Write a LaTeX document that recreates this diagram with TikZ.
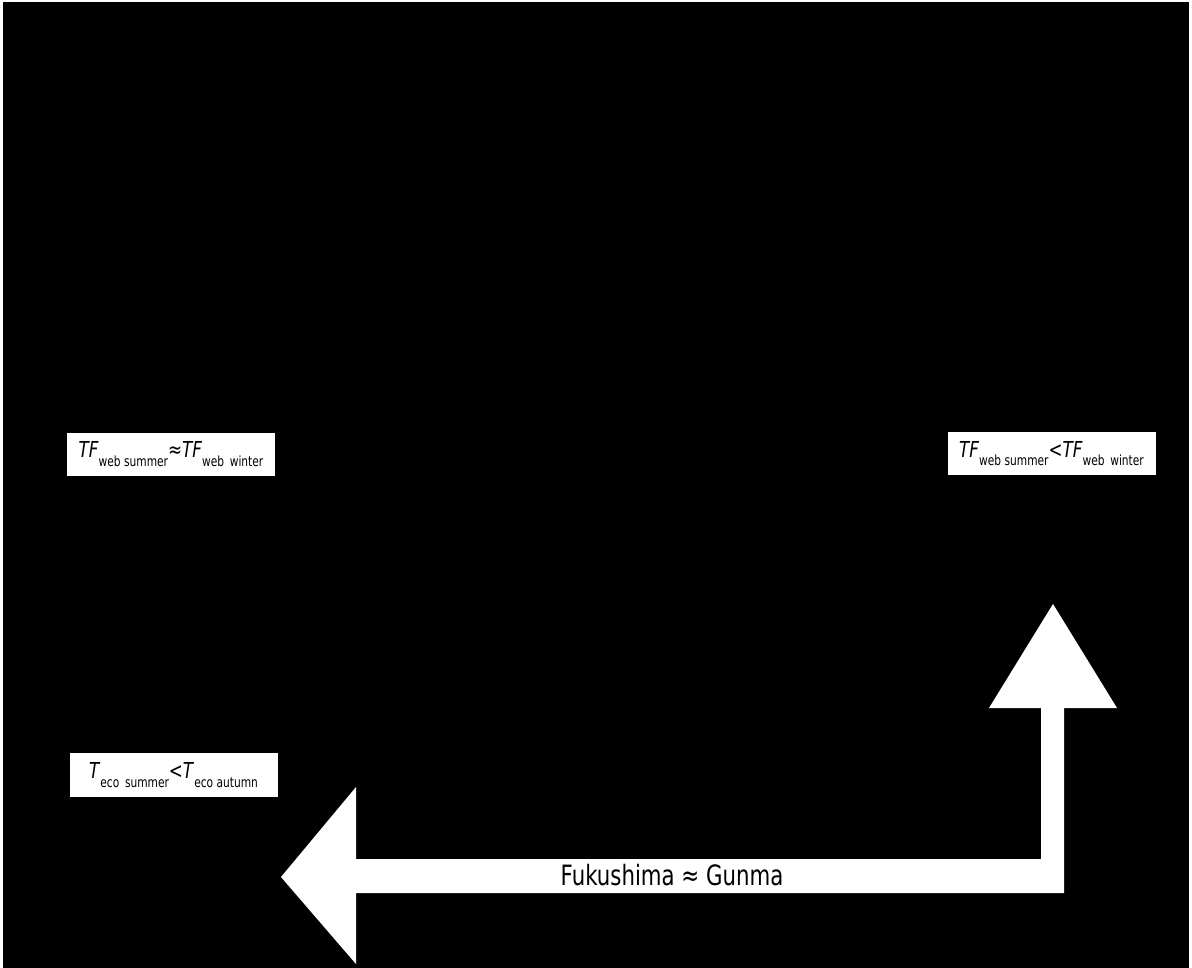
\documentclass[tikz,border=0pt]{standalone}
\usepackage{fontspec}
\setmainfont[FakeStretch=0.76]{DejaVu Sans}
% lowered subscript in a smaller size
\newcommand\lowsub[1]{\raisebox{-8.5pt}{\fontsize{14}{14}\selectfont #1}}
\begin{document}
\begin{tikzpicture}[x=1pt,y=-1pt,
  condbox/.style={fill=white,inner sep=0pt,minimum width=208pt,minimum height=43pt,
    font=\fontsize{22}{26}\selectfont},
  bigarrow/.style={fill=white},
  arrowlabel/.style={inner sep=0pt,font=\fontsize{28}{32}\selectfont}]
\useasboundingbox (0,0) rectangle (1192,968);
\fill[white] (0,0) rectangle (1192,968);
\fill[black] (3,2) rectangle (1189,968);

% bent double-headed arrow: up on the right, left at the bottom
\fill[bigarrow] (1053,604) -- (1117,708) -- (1064,708) -- (1064,893) -- (356,893)
  -- (356,964) -- (281,877) -- (356,787) -- (356,859) -- (1041,859) -- (1041,708)
  -- (989,708) -- cycle;

\node[arrowlabel] (region) at (672,875) {Fukushima ≈ Gunma};

\node[condbox] (webeq) at (171,454)
  {\textit{TF}\lowsub{web summer}≈\textit{TF}\lowsub{web\, winter}};
\node[condbox] (webless) at (1051.5,453.5)
  {\textit{TF}\lowsub{web summer}<\textit{TF}\lowsub{web\, winter}};
\node[condbox,minimum height=44pt] (ecoless) at (173.5,775)
  {\textit{T}\lowsub{eco\, summer}<\textit{T}\lowsub{eco autumn}};
\end{tikzpicture}
\end{document}
